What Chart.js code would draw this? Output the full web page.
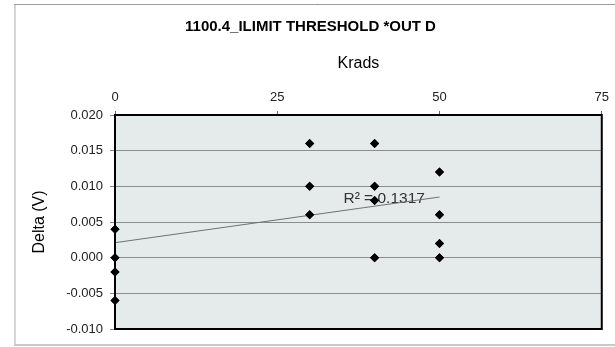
<!DOCTYPE html>
<html>
<head>
<meta charset="utf-8">
<script src="https://cdn.jsdelivr.net/npm/chart.js@4.4.0/dist/chart.umd.min.js"></script>
<style>
  html, body { margin: 0; padding: 0; background: #fff; }
  #wrap { width: 615px; height: 347px; position: relative; }
</style>
</head>
<body>
<div id="wrap"><canvas id="grafico"></canvas></div>
<script>
// krads de cada medida y su delta en voltios
const krads = [0, 0, 0, 0, 30, 30, 30, 40, 40, 40, 40, 50, 50, 50, 50]
const deltas = [0.004, 0, -0.002, -0.006, 0.016, 0.010, 0.006, 0.016, 0.010, 0.008, 0, 0.012, 0.006, 0.002, 0]

// linea de tendencia
const trendX = [0, 50]
const trendY = [0.0021, 0.0085]
const r2Texto = 'R² = 0.1317'

const xTicks = [0, 25, 50, 75]
const yTicks = [-0.010, -0.005, 0.000, 0.005, 0.010, 0.015, 0.020]

const puntos = krads.map((k, i) => ({ x: k, y: deltas[i] }))
const tendencia = trendX.map((k, i) => ({ x: k, y: trendY[i] }))

const fuente = 'Arial, "Liberation Sans", sans-serif'

const marcoPlugin = {
    id: 'marco',
    beforeDraw(chart) {
        const { ctx, chartArea: a } = chart
        ctx.save()
        // marco exterior
        ctx.fillStyle = '#ffffff'
        ctx.fillRect(0, 0, chart.width, chart.height)
        ctx.strokeStyle = '#d6d6d6'
        ctx.lineWidth = 2
        ctx.beginPath()
        ctx.moveTo(15, 4)
        ctx.lineTo(15, 345)
        ctx.stroke()
        ctx.strokeStyle = '#9a9a9a'
        ctx.lineWidth = 1
        ctx.beginPath()
        ctx.moveTo(14, 4.5)
        ctx.lineTo(chart.width, 4.5)
        ctx.stroke()
        ctx.strokeStyle = '#c8c8c8'
        ctx.lineWidth = 2
        ctx.beginPath()
        ctx.moveTo(14, 345)
        ctx.lineTo(chart.width, 345)
        ctx.stroke()
        // fondo del area de datos
        ctx.fillStyle = '#e5eaea'
        ctx.fillRect(a.left, a.top, a.right - a.left, a.bottom - a.top)
        ctx.restore()
    },
    beforeDatasetsDraw(chart) {
        const { ctx, scales } = chart
        ctx.save()
        ctx.font = '15.5px ' + fuente
        ctx.fillStyle = '#333333'
        ctx.textAlign = 'left'
        ctx.textBaseline = 'middle'
        ctx.fillText(r2Texto, scales.x.getPixelForValue(35.2), scales.y.getPixelForValue(0.0083))
        ctx.restore()
    },
    afterDraw(chart) {
        const { ctx, chartArea: a } = chart
        ctx.save()
        ctx.strokeStyle = '#000000'
        ctx.lineWidth = 2
        ctx.strokeRect(a.left, a.top, a.right - a.left, a.bottom - a.top)
        // los puntos en x = 0 quedan encima del eje
        const meta = chart.getDatasetMeta(0)
        meta.data.forEach(p => p.draw(ctx))
        ctx.restore()
    }
}

const config = {
    type: 'scatter',
    data: {
        datasets: [
            {
                label: 'Delta',
                data: puntos,
                pointStyle: 'rectRot',
                pointRadius: 4.5,
                pointHoverRadius: 4.5,
                backgroundColor: '#000000',
                borderColor: '#000000',
                borderWidth: 0,
                clip: false
            },
            {
                type: 'line',
                label: 'Tendencia',
                data: tendencia,
                borderColor: '#707070',
                borderWidth: 1,
                pointRadius: 0,
                fill: false
            }
        ]
    },
    options: {
        responsive: false,
        animation: false,
        layout: {
            padding: { left: 14, right: 8, top: 0, bottom: 18 }
        },
        plugins: {
            legend: { display: false },
            tooltip: { enabled: false },
            title: {
                display: true,
                text: '1100.4_ILIMIT THRESHOLD *OUT D',
                color: '#000000',
                font: { family: fuente, size: 15, weight: 'bold', lineHeight: 1.2 },
                padding: { top: 18, bottom: 10 }
            }
        },
        scales: {
            x: {
                type: 'linear',
                position: 'top',
                min: 0,
                max: 75,
                afterBuildTicks(scale) {
                    scale.ticks = xTicks.map(v => ({ value: v }))
                },
                afterFit(scale) {
                    scale.height = 69
                },
                title: {
                    display: true,
                    text: 'Krads',
                    color: '#000000',
                    font: { family: fuente, size: 16, lineHeight: 1.2 },
                    padding: { top: 8.4, bottom: 0 }
                },
                ticks: {
                    color: '#222222',
                    font: { family: fuente, size: 13 },
                    padding: 6,
                    maxRotation: 0
                },
                grid: {
                    drawOnChartArea: false,
                    color: '#666666',
                    tickLength: 4
                },
                border: { color: '#000000', width: 2 }
            },
            y: {
                type: 'linear',
                min: -0.010,
                max: 0.020,
                afterBuildTicks(scale) {
                    scale.ticks = yTicks.map(v => ({ value: v }))
                },
                afterFit(scale) {
                    scale.width = 101
                },
                title: {
                    display: true,
                    text: 'Delta (V)',
                    color: '#000000',
                    font: { family: fuente, size: 16, lineHeight: 1.2 },
                    padding: { top: 16.4, bottom: 0 }
                },
                ticks: {
                    color: '#222222',
                    font: { family: fuente, size: 13 },
                    padding: 7,
                    callback: v => Number(v).toFixed(3)
                },
                grid: {
                    color: '#8c8c8c',
                    lineWidth: 1,
                    tickLength: 5
                },
                border: { color: '#000000', width: 2 }
            }
        }
    },
    plugins: [marcoPlugin]
}

const lienzo = document.getElementById('grafico')
lienzo.width = 615
lienzo.height = 347
new Chart(lienzo, config)
</script>
</body>
</html>
